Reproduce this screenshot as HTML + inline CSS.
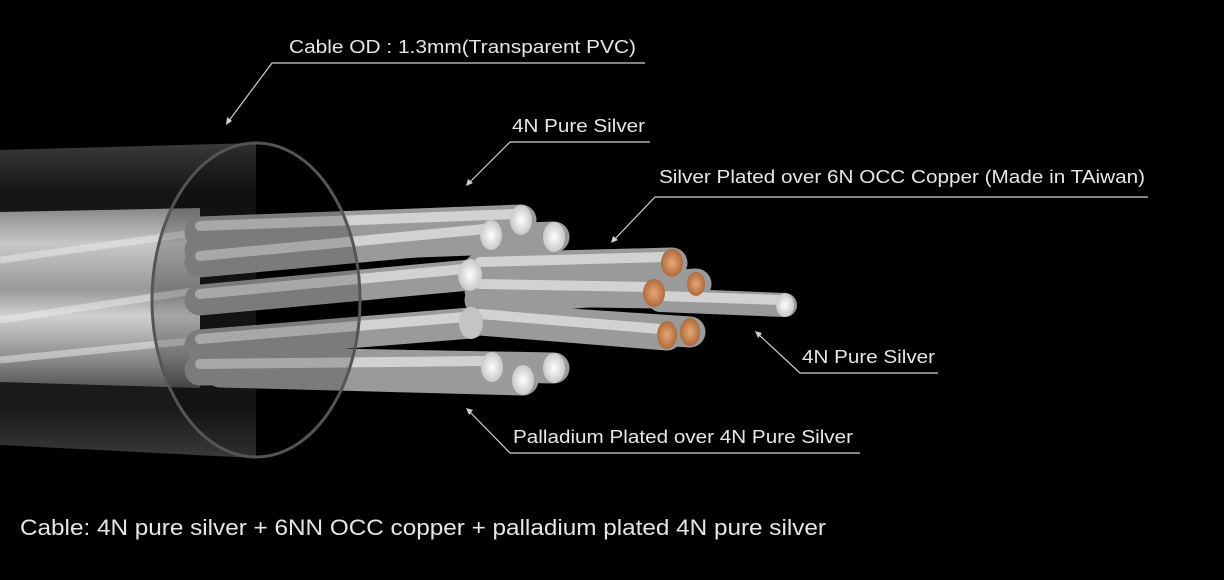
<!DOCTYPE html>
<html><head><meta charset="utf-8"><style>
html,body{margin:0;padding:0;background:#000;}
svg{display:block}
text{font-family:"Liberation Sans",sans-serif;fill:#e6e6e6}
</style></head><body>
<svg width="1224" height="580" viewBox="0 0 1224 580" xmlns="http://www.w3.org/2000/svg">
<defs>
<linearGradient id="jk" x1="0" y1="0" x2="0" y2="1">
<stop offset="0" stop-color="#3a3a3a"/><stop offset="0.15" stop-color="#161616"/><stop offset="0.85" stop-color="#1a1a1a"/><stop offset="1" stop-color="#3a3a3a"/>
</linearGradient>
<linearGradient id="core" x1="0" y1="0" x2="0" y2="1">
<stop offset="0" stop-color="#888"/><stop offset="0.2" stop-color="#c8c8c8"/><stop offset="0.45" stop-color="#999"/><stop offset="0.6" stop-color="#d0d0d0"/><stop offset="0.85" stop-color="#888"/><stop offset="1" stop-color="#555"/>
</linearGradient>
<radialGradient id="cu"><stop offset="0" stop-color="#e6a878"/><stop offset="1" stop-color="#b06a3a"/></radialGradient>
<radialGradient id="ag"><stop offset="0" stop-color="#fff"/><stop offset="1" stop-color="#c8c8c8"/></radialGradient>
</defs>
<path d="M0 150 L256 143 L256 458 L0 445 Z" fill="url(#jk)"/>
<path d="M0 212 L200 208 L200 388 L0 382 Z" fill="url(#core)"/>
<path d="M0 260 L200 232 M0 320 L200 290 M0 360 L200 340" stroke="#eee" stroke-width="7" opacity="0.5"/>
<g stroke-linecap="round" fill="none">
<g stroke="#9a9a9a" stroke-width="31">
<line x1="200" y1="232" x2="521" y2="220"/>
<line x1="200" y1="250" x2="554" y2="237"/>
<line x1="200" y1="262" x2="491" y2="235"/>
<line x1="200" y1="300" x2="470" y2="275"/>
<line x1="200" y1="345" x2="471" y2="323"/>
<line x1="200" y1="370" x2="492" y2="367"/>
<line x1="220" y1="372" x2="523" y2="380"/>
<line x1="220" y1="362" x2="554" y2="368"/>
<line x1="480" y1="268" x2="672" y2="263"/>
<line x1="480" y1="290" x2="654" y2="293"/>
<line x1="480" y1="300" x2="696" y2="284"/>
<line x1="480" y1="320" x2="667" y2="335"/>
<line x1="480" y1="318" x2="690" y2="332"/>
<line x1="660" y1="300" x2="785" y2="305" stroke-width="24"/>
</g>
<g stroke="#e0e0e0" stroke-width="10" opacity="0.8">
<line x1="200" y1="226" x2="515" y2="214"/>
<line x1="200" y1="256" x2="485" y2="229"/>
<line x1="200" y1="294" x2="464" y2="269"/>
<line x1="200" y1="339" x2="465" y2="317"/>
<line x1="200" y1="364" x2="486" y2="361"/>
<line x1="480" y1="262" x2="665" y2="257"/>
<line x1="480" y1="284" x2="647" y2="287"/>
<line x1="480" y1="314" x2="660" y2="329"/>
<line x1="660" y1="296" x2="780" y2="300"/>
</g>
</g>
<ellipse cx="521" cy="220" rx="11" ry="15" fill="url(#ag)"/>
<ellipse cx="554" cy="237" rx="11" ry="15" fill="url(#ag)"/>
<ellipse cx="491" cy="235" rx="11" ry="15" fill="url(#ag)"/>
<ellipse cx="470" cy="275" rx="12" ry="16" fill="url(#ag)"/>
<ellipse cx="471" cy="323" rx="12" ry="16" fill="#c4c4c4"/>
<ellipse cx="492" cy="367" rx="11" ry="15" fill="url(#ag)"/>
<ellipse cx="523" cy="380" rx="11" ry="15" fill="url(#ag)"/>
<ellipse cx="554" cy="368" rx="11" ry="15" fill="url(#ag)"/>
<ellipse cx="672" cy="263" rx="11" ry="14" fill="url(#cu)"/>
<ellipse cx="696" cy="284" rx="9" ry="12" fill="url(#cu)"/>
<ellipse cx="654" cy="293" rx="11" ry="14" fill="url(#cu)"/>
<ellipse cx="667" cy="335" rx="10" ry="14" fill="url(#cu)"/>
<ellipse cx="690" cy="332" rx="10" ry="14" fill="url(#cu)"/>
<ellipse cx="785" cy="305" rx="9" ry="12" fill="url(#ag)"/>
<ellipse cx="256" cy="300" rx="104" ry="157" fill="#000" fill-opacity="0.2" stroke="#555" stroke-width="3"/>
<g stroke="#cfcfcf" stroke-width="1.2" fill="none">
<polyline points="645,63 272,63 228,122"/>
<polyline points="650,142 510,142 468,184"/>
<polyline points="1148,197 655,197 613,241"/>
<polyline points="938,373 800,373 757,333"/>
<polyline points="860,453 510,453 468,410"/>
</g>
<g fill="#cfcfcf">
<path d="M226 125 l1 -8 l5 4 z"/>
<path d="M466 186 l2 -7 l5 4 z"/>
<path d="M611 243 l2 -7 l5 4 z"/>
<path d="M755 331 l7 2 l-4 5 z"/>
<path d="M466 408 l7 2 l-4 5 z"/>
</g>
<text x="289" y="53" font-size="18" textLength="347" lengthAdjust="spacingAndGlyphs">Cable OD : 1.3mm(Transparent PVC)</text>
<text x="512" y="132" font-size="18" textLength="133" lengthAdjust="spacingAndGlyphs">4N Pure Silver</text>
<text x="659" y="183" font-size="18" textLength="486" lengthAdjust="spacingAndGlyphs">Silver Plated over 6N OCC Copper (Made in TAiwan)</text>
<text x="802" y="363" font-size="18" textLength="133" lengthAdjust="spacingAndGlyphs">4N Pure Silver</text>
<text x="513" y="443" font-size="18" textLength="340" lengthAdjust="spacingAndGlyphs">Palladium Plated over 4N Pure Silver</text>
<text x="20" y="535" font-size="22" textLength="806" lengthAdjust="spacingAndGlyphs">Cable: 4N pure silver + 6NN OCC copper + palladium plated 4N pure silver</text>
</svg>
</body></html>
